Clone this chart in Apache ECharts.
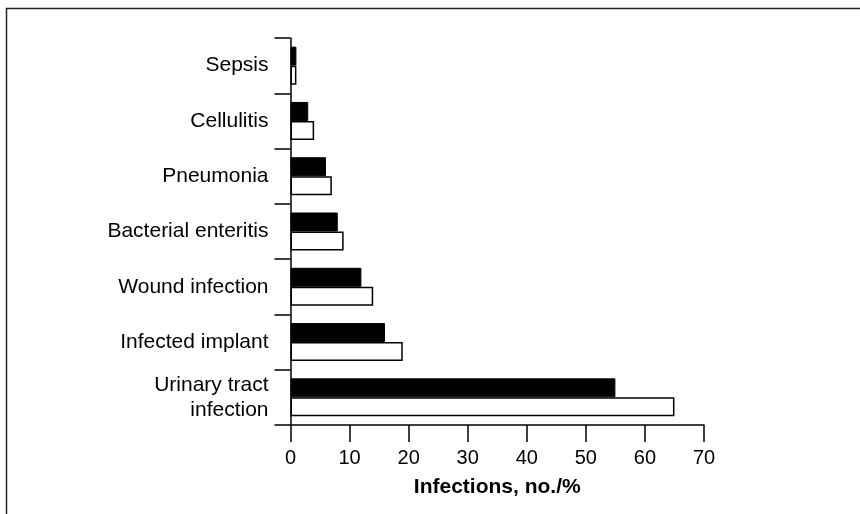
<!DOCTYPE html>
<html>
<head>
<meta charset="utf-8">
<title>Infections</title>
<script src="https://cdn.jsdelivr.net/npm/echarts@6/dist/echarts.min.js"></script>
<style>
  html, body { margin: 0; padding: 0; background: #fff; }
  #chart { width: 860px; height: 514px; }
</style>
</head>
<body>
<div id="chart"></div>
<script>
  // categories bottom -> top
  var categories = [
    "Urinary tract\ninfection",
    "Infected implant",
    "Wound infection",
    "Bacterial enteritis",
    "Pneumonia",
    "Cellulitis",
    "Sepsis"
  ];
  var countValues = [55, 16, 12, 8, 6, 3, 1];   // black bars, no.
  var percentValues = [65, 19, 14, 9, 7, 4, 1]; // white bars, %
  var xTicks = [0, 70, 10]; // min, max, interval

  var font = "Liberation Sans, Arial, sans-serif";
  var chart = echarts.init(document.getElementById("chart"));

  chart.setOption({
    animation: false,
    backgroundColor: "#fff",
    grid: {
      left: 290.5,
      right: 156,
      top: 38,
      bottom: 89,
      containLabel: false
    },
    xAxis: {
      type: "value",
      min: xTicks[0],
      max: xTicks[1],
      interval: xTicks[2],
      name: "Infections, no./%",
      nameLocation: "middle",
      nameGap: 52,
      nameTextStyle: {
        fontFamily: font,
        fontSize: 21,
        fontWeight: "bold",
        color: "#000"
      },
      axisLine: {
        show: true,
        lineStyle: { color: "#000", width: 1.5 }
      },
      axisTick: {
        show: true,
        length: 17,
        lineStyle: { color: "#000", width: 1.5 }
      },
      axisLabel: {
        fontFamily: font,
        fontSize: 20,
        color: "#000",
        margin: 23
      },
      splitLine: { show: false }
    },
    yAxis: {
      type: "category",
      data: categories,
      axisLine: {
        show: true,
        lineStyle: { color: "#000", width: 1.5 }
      },
      axisTick: {
        show: true,
        length: 16,
        lineStyle: { color: "#000", width: 1.5 }
      },
      axisLabel: {
        fontFamily: font,
        fontSize: 21,
        color: "#000",
        margin: 22,
        lineHeight: 25,
        align: "right"
      },
      splitLine: { show: false }
    },
    series: [
      {
        name: "no.",
        type: "bar",
        data: countValues,
        barWidth: 19,
        barGap: "0%",
        itemStyle: { color: "#000", borderColor: "#000", borderWidth: 1 }
      },
      {
        name: "%",
        type: "bar",
        data: percentValues,
        barWidth: 19,
        barGap: "0%",
        itemStyle: { color: "#fff", borderColor: "#000", borderWidth: 1.5 }
      }
    ],
    graphic: [
      {
        type: "line",
        shape: { x1: 6, y1: 8.5, x2: 860, y2: 8.5 },
        style: { stroke: "#222", lineWidth: 1.5 }
      },
      {
        type: "line",
        shape: { x1: 6.5, y1: 8, x2: 6.5, y2: 514 },
        style: { stroke: "#222", lineWidth: 1.5 }
      }
    ]
  });
</script>
</body>
</html>
